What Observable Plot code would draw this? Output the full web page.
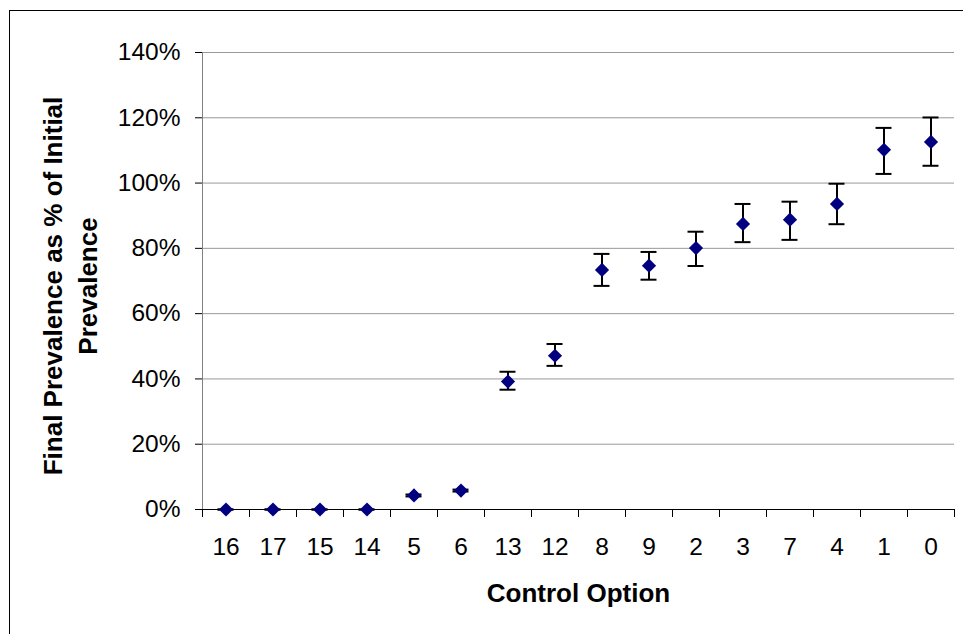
<!DOCTYPE html>
<html><head><meta charset="utf-8">
<script src="https://cdn.jsdelivr.net/npm/d3@7"></script>
<script src="https://cdn.jsdelivr.net/npm/@observablehq/plot@0.6"></script>
<style>
body{margin:0;background:#fff;}
#wrap{position:relative;width:963px;height:634px;overflow:hidden;}
#border{position:absolute;left:9px;top:10px;right:-5px;bottom:-5px;border-left:1.5px solid #000;border-top:1.5px solid #000;pointer-events:none}
</style></head><body>
<div id="wrap"><div id="chart"></div><div id="border"></div></div>
<script>
const categories = ["16","17","15","14","5","6","13","12","8","9","2","3","7","4","1","0"];
const means = [0, 0, 0, 0, 0.043, 0.058, 0.392, 0.471, 0.734, 0.747, 0.801, 0.875, 0.888, 0.936, 1.102, 1.126];
const lower = [0, 0, 0, 0, 0.040, 0.055, 0.367, 0.440, 0.685, 0.704, 0.746, 0.819, 0.826, 0.874, 1.028, 1.053];
const upper = [0, 0, 0, 0, 0.046, 0.061, 0.422, 0.507, 0.783, 0.789, 0.851, 0.936, 0.943, 0.998, 1.169, 1.201];
const yTicks = [0, 0.2, 0.4, 0.6, 0.8, 1.0, 1.2, 1.4];
const xTitle = "Control Option";
const yTitle = "Final Prevalence as % of Initial\nPrevalence";

const rows = categories.map((c, i) => ({c, pos: i + 0.5, mean: means[i], lo: lower[i], hi: upper[i]}));
const capHalf = 0.17;
const font = "'Liberation Sans', Arial, sans-serif";

const chart = Plot.plot({
  width: 963,
  height: 634,
  marginLeft: 202,
  marginRight: 9,
  marginTop: 52,
  marginBottom: 125,
  style: {fontFamily: font, fontSize: "24px", color: "#000", background: "#fff"},
  x: {domain: [0, categories.length]},
  y: {domain: [0, 1.4]},
  marks: [
    Plot.gridY(yTicks, {stroke: "#999", strokeOpacity: 1, strokeWidth: 1}),
    Plot.ruleX([0], {stroke: "#808080", strokeWidth: 1}),
    Plot.ruleY([0], {stroke: "#000", strokeWidth: 1}),
    Plot.axisY(yTicks, {tickSize: 7, tickPadding: 15, tickFormat: d3.format(".0%"), fontSize: 24.5, label: null}),
    Plot.axisX(rows.map(d => d.pos), {tickSize: 0, tickPadding: 28, tickFormat: d => categories[Math.floor(d)], fontSize: 24.5, label: null}),
    Plot.axisX(d3.range(categories.length + 1), {tickSize: 8, tickFormat: () => "", label: null}),
    Plot.ruleX(rows, {x: "pos", y1: "lo", y2: "hi", stroke: "#000", strokeWidth: 2}),
    Plot.ruleY(rows, {y: "lo", x1: d => d.pos - capHalf, x2: d => d.pos + capHalf, stroke: "#000", strokeWidth: 2}),
    Plot.ruleY(rows, {y: "hi", x1: d => d.pos - capHalf, x2: d => d.pos + capHalf, stroke: "#000", strokeWidth: 2}),
    Plot.dot(rows, {x: "pos", y: "mean", symbol: "diamond2", r: 6.4, fill: "#000080", stroke: "none"}),
    Plot.text([0], {frameAnchor: "left", text: () => yTitle, rotate: -90, dx: -134, dy: 5, fontSize: 26, fontWeight: "bold", lineHeight: 1.33, textAnchor: "middle", lineAnchor: "middle"}),
    Plot.text([0], {frameAnchor: "bottom", text: () => xTitle, dy: 84, fontSize: 26, fontWeight: "bold", textAnchor: "middle", lineAnchor: "middle"})
  ]
});
document.getElementById("chart").append(chart);
</script>
</body></html>
